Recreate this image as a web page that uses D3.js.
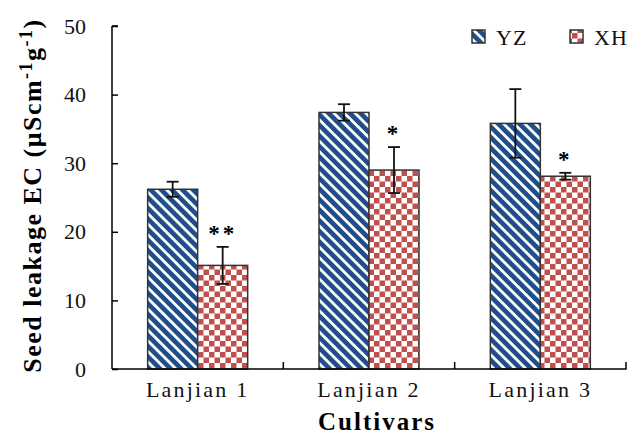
<!DOCTYPE html>
<html><head><meta charset="utf-8">
<script src="https://cdn.jsdelivr.net/npm/d3@7"></script>
<style>body{margin:0;background:#fff}svg{display:block}text{font-family:"Liberation Serif","Times New Roman",serif}</style>
</head><body><svg id="c" width="634" height="436"></svg>
<script>
const categories = ["Lanjian 1", "Lanjian 2", "Lanjian 3"];
const seriesNames = ["YZ", "XH"];
const yzValues = [26.2, 37.4, 35.8];
const yzErrors = [1.1, 1.2, 5.0];
const xhValues = [15.1, 29.0, 28.1];
const xhErrors = [2.7, 3.35, 0.5];
const xhMarks = ["**", "*", "*"];
const yTicks = [0, 10, 20, 30, 40, 50];

const svg = d3.select("#c");
const defs = svg.append("defs");
const blue = "#1f4e8b", red = "#c0504d";
// stripes
const ps = defs.append("pattern").attr("id","stripe").attr("patternUnits","userSpaceOnUse")
  .attr("width",7.5).attr("height",7.5).attr("patternTransform","rotate(45)");
ps.append("rect").attr("width",7.5).attr("height",7.5).attr("fill",blue);
ps.append("rect").attr("x",0).attr("y",0).attr("width",7.5).attr("height",2.8).attr("fill","#fff");
// checker
const pc = defs.append("pattern").attr("id","check").attr("patternUnits","userSpaceOnUse")
  .attr("width",11).attr("height",11);
pc.append("rect").attr("width",11).attr("height",11).attr("fill","#fff");
pc.append("rect").attr("width",5.5).attr("height",5.5).attr("fill",red);
pc.append("rect").attr("x",5.5).attr("y",5.5).attr("width",5.5).attr("height",5.5).attr("fill",red);
const fills = ["url(#stripe)", "url(#check)"];

const mLeft = 112, mRight = 626, mTop = 26, mBottom = 369;
const x = d3.scaleBand().domain(categories).range([mLeft, mRight]).paddingInner(0).paddingOuter(0);
const xs = d3.scaleBand().domain(seriesNames).range([0, 100]);
const y = d3.scaleLinear().domain([0, 50]).range([mBottom, mTop]);

const data = categories.map((c,i)=>[
  {c, s:"YZ", v:yzValues[i], e:yzErrors[i], m:""},
  {c, s:"XH", v:xhValues[i], e:xhErrors[i], m:xhMarks[i]}
]).flat();

const off = (x.bandwidth()-100)/2;
const g = svg.append("g");
g.selectAll("rect.bar").data(data).join("rect").attr("class","bar")
  .attr("x", d=>x(d.c)+off+xs(d.s)).attr("width", xs.bandwidth())
  .attr("y", d=>y(d.v)).attr("height", d=>mBottom-y(d.v))
  .attr("fill", d=>fills[seriesNames.indexOf(d.s)])
  .attr("stroke","#333").attr("stroke-width",1.5);

const cx = d=>x(d.c)+off+xs(d.s)+xs.bandwidth()/2;
const eg = g.selectAll("g.err").data(data).join("g").attr("class","err")
  .attr("stroke","#111").attr("stroke-width",1.8);
eg.append("line").attr("x1",cx).attr("x2",cx).attr("y1",d=>y(d.v+d.e)).attr("y2",d=>y(d.v-d.e));
eg.append("line").attr("x1",d=>cx(d)-6).attr("x2",d=>cx(d)+6).attr("y1",d=>y(d.v+d.e)).attr("y2",d=>y(d.v+d.e));
eg.append("line").attr("x1",d=>cx(d)-6).attr("x2",d=>cx(d)+6).attr("y1",d=>y(d.v-d.e)).attr("y2",d=>y(d.v-d.e));

g.selectAll("text.mark").data(data.filter(d=>d.m)).join("text").attr("class","mark")
  .attr("x",cx).attr("y",d=>y(d.v+d.e)-6).attr("text-anchor","middle")
  .attr("font-size",23).attr("font-weight","bold").attr("letter-spacing",3).text(d=>d.m);

// axes
const ya = d3.axisLeft(y).tickValues(yTicks).tickSize(-6).tickPadding(26);
const yg = svg.append("g").attr("transform",`translate(${mLeft},0)`).call(ya);
yg.select(".domain").attr("stroke","#000").attr("stroke-width",1.5).attr("d",`M0,${mTop}H6M0,${mTop}V${mBottom}`);
yg.selectAll(".tick line").attr("stroke","#000").attr("stroke-width",1.5);
yg.selectAll(".tick text").attr("font-size",22).attr("fill","#111").attr("font-family","Liberation Serif");

const xa = d3.axisBottom(x).tickSize(0).tickPadding(12);
const xg = svg.append("g").attr("transform",`translate(0,${mBottom})`).call(xa);
xg.select(".domain").attr("stroke","#000").attr("stroke-width",1.5).attr("d",`M${mLeft},0H${mRight}V-7`);
xg.selectAll(".tick text").attr("font-size",22).attr("fill","#111").attr("font-family","Liberation Serif").attr("letter-spacing",2.2);
const bounds = categories.slice(1).map(c=>x(c));
xg.selectAll("line.bd").data(bounds).join("line").attr("class","bd")
  .attr("x1",d=>d).attr("x2",d=>d).attr("y1",0).attr("y2",-7).attr("stroke","#000").attr("stroke-width",1.5);

svg.append("text").attr("x",(mLeft+mRight)/2+8).attr("y",430).attr("text-anchor","middle")
  .attr("font-size",25).attr("font-weight","bold").attr("letter-spacing",2).text("Cultivars");

const yt = svg.append("text").attr("transform",`translate(41,${(mTop+mBottom)/2 - 2}) rotate(-90)`)
  .attr("text-anchor","middle").attr("font-size",26).attr("font-weight","bold").attr("letter-spacing",1.5);
yt.append("tspan").text("Seed leakage EC (μScm");
yt.append("tspan").attr("font-size",18).attr("dy",-9).text("-1");
yt.append("tspan").attr("dy",9).text("g");
yt.append("tspan").attr("font-size",18).attr("dy",-9).text("-1");
yt.append("tspan").attr("dy",9).text(")");

// legend
const leg = svg.append("g");
const lx = [472, 570];
seriesNames.forEach((s,i)=>{
  leg.append("rect").attr("x",lx[i]).attr("y",30).attr("width",13).attr("height",13)
    .attr("fill",fills[i]).attr("stroke","#333").attr("stroke-width",1.5);
  leg.append("text").attr("x",lx[i]+24).attr("y",45).attr("font-size",22).attr("fill","#111").attr("letter-spacing",1).text(s);
});
</script></body></html>
